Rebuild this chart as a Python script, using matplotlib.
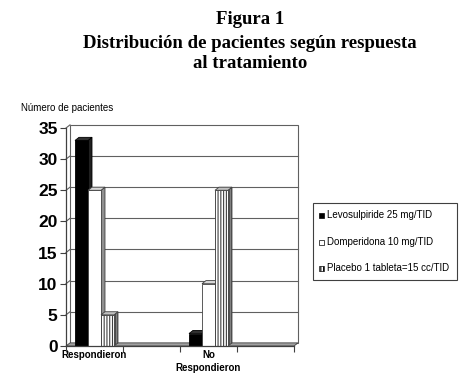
import matplotlib.pyplot as plt
from matplotlib.patches import Rectangle
import numpy as np

plt.rcParams['font.family'] = ['Liberation Sans', 'DejaVu Sans']

categories = ['Respondieron', 'No\nRespondieron']
cat_pos = [0, 2]   # 4 slots on the axis, slots 1 and 3 are empty
series = ['Levosulpiride 25 mg/TID', 'Domperidona 10 mg/TID', 'Placebo 1 tableta=15 cc/TID']
levo = [33, 2]
domp = [25, 10]
placebo = [5, 25]
yticks = [0, 5, 10, 15, 20, 25, 30, 35]

fig = plt.figure(figsize=(4.67, 3.9), dpi=100)
ax = fig.add_axes([66/467, 44/390, 228/467, 218/390])
ax.set_xlim(-0.5, 3.5)
ax.set_ylim(0, 35)
for s in ax.spines.values():
    s.set_visible(False)

dx, dy = 0.07, 0.5  # fake 3d depth

# back wall + gridlines
ax.add_patch(Rectangle((-0.5+dx, dy), 4, 35, fc='white', ec='#606060', lw=0.8, clip_on=False, zorder=0))
for v in yticks[1:-1]:
    ax.plot([-0.5+dx, 3.5+dx], [v+dy, v+dy], color='#606060', lw=0.8, zorder=1, clip_on=False)
    ax.plot([-0.5, -0.5+dx], [v, v+dy], color='#606060', lw=0.8, zorder=1, clip_on=False)
ax.plot([-0.5, -0.5+dx], [35, 35+dy], color='#606060', lw=0.8, clip_on=False)
# floor
ax.fill([-0.5, 3.5, 3.5+dx, -0.5+dx], [0, 0, dy, dy], fc='#a0a0a0', ec='#404040', lw=0.6, clip_on=False, zorder=1)
# left axis and bottom axis
ax.plot([-0.5, -0.5], [0, 35], color='#404040', lw=0.9, clip_on=False, zorder=5)
ax.plot([-0.5, 3.5], [0, 0], color='#404040', lw=0.9, clip_on=False, zorder=5)

w = 0.228
styles = [
    dict(fc='black', ec='black', top='#303030', side='#202020', hatch=None),
    dict(fc='white', ec='#404040', top='#d8d8d8', side='#909090', hatch=None),
    dict(fc='white', ec='#404040', top='#c0c0c0', side='#808080', hatch='||||||'),
]
plt.rcParams['hatch.linewidth'] = 0.8
for i, vals in enumerate([levo, domp, placebo]):
    st = styles[i]
    xs = np.array(cat_pos) + (i - 1) * w
    ax.bar(xs, vals, width=w, color=st['fc'], edgecolor=st['ec'], hatch=st['hatch'],
           linewidth=0.6, zorder=3)
    for x, h in zip(xs, vals):
        x0, x1 = x - w/2, x + w/2
        ax.fill([x0, x1, x1+dx, x0+dx], [h, h, h+dy, h+dy], fc=st['top'], ec=st['ec'], lw=0.6,
                zorder=3, clip_on=False)
        ax.fill([x1, x1+dx, x1+dx, x1], [0, dy, h+dy, h], fc=st['side'], ec=st['ec'], lw=0.6,
                hatch=st['hatch'], zorder=2, clip_on=False)

ax.set_yticks(yticks)
ax.set_yticklabels([str(t) for t in yticks], fontsize=12.5, fontweight='bold')
ax.tick_params(axis='y', direction='out', length=4, width=0.8, pad=2, color='#404040')
ax.set_xticks(cat_pos)
ax.set_xticklabels(categories, fontsize=7, linespacing=1.3, fontweight='semibold')
ax.set_xticks([-0.5, 0.5, 1.5, 2.5, 3.5], minor=True)
ax.tick_params(axis='x', which='major', length=0, pad=3)
ax.tick_params(axis='x', which='minor', direction='out', length=4, width=0.8, color='#404040')

fig.text(21/467, 1-108/390, 'Número de pacientes', fontsize=7, va='center', ha='left')

# title
tkw = dict(family=['Liberation Serif'], fontweight='bold', fontsize=13.5, ha='center', va='center')
fig.text(250/467, 1-20/390, 'Figura 1', **tkw)
fig.text(250/467, 1-44/390, 'Distribución de pacientes según respuesta', **tkw)
fig.text(250/467, 1-63/390, 'al tratamiento', **tkw)

# legend
fig.add_artist(Rectangle((313/467, 1-280/390), 144/467, 77/390, transform=fig.transFigure,
                         fc='white', ec='#404040', lw=0.8))
leg_y = [215, 242, 268]
for i, name in enumerate(series):
    st = styles[i]
    fig.add_artist(Rectangle((319/467, 1-(leg_y[i]+2.5)/390), 5/467, 5/390, transform=fig.transFigure,
                             fc=st['fc'], ec='black', lw=0.5, hatch=st['hatch']))
    fig.text(327/467, 1-leg_y[i]/390, name, fontsize=7, va='center', ha='left')

fig.savefig('out.png', dpi=100)
